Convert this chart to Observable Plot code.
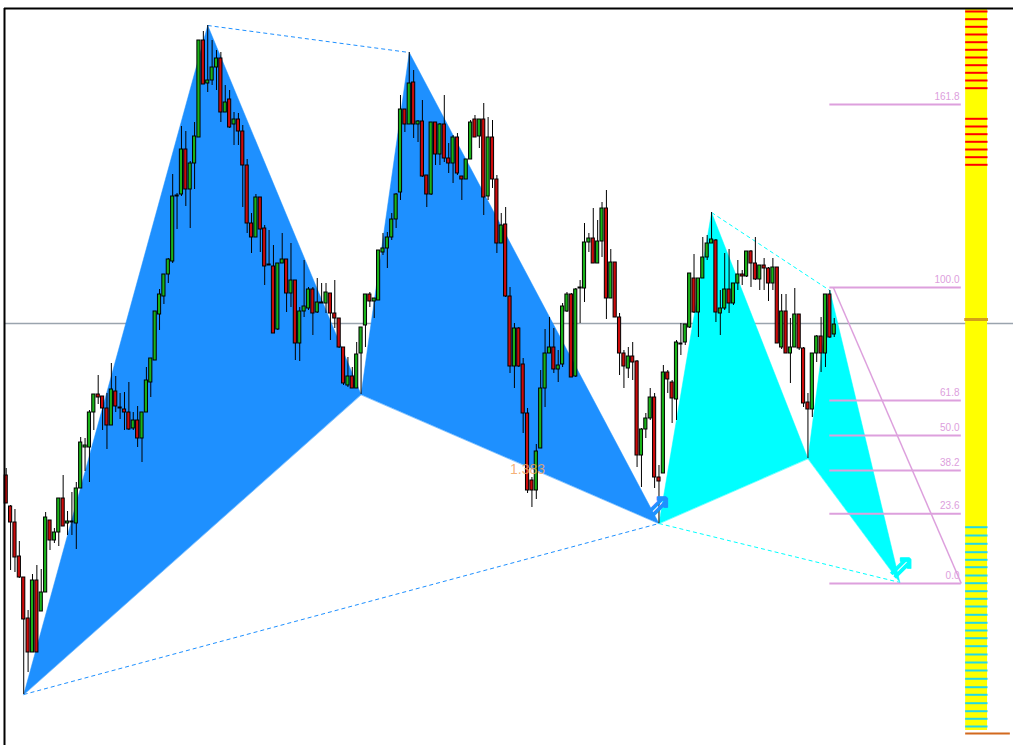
<!DOCTYPE html>
<html><head><meta charset="utf-8">
<script src="https://cdn.jsdelivr.net/npm/d3@7"></script>
<script src="https://cdn.jsdelivr.net/npm/@observablehq/plot@0.6"></script>
<style>body{margin:0;background:#fff;} #chart svg{display:block;background:#fff}</style>
</head><body><div id="chart"></div>
<script>
// ---- data (prices in points) ----
const open = [525,494,478,444,423,382,348,420,389,408,480,460,468,502,477,478,477,512,553,553,588,606,604,592,575,609,593,591,588,572,580,562,588,618,640,686,704,726,739,804,806,851,811,837,863,960,917,920,933,942,888,901,876,881,869,835,777,763,803,772,736,734,671,737,741,707,720,657,689,692,711,688,698,697,707,687,682,653,615,624,612,647,675,706,699,700,748,752,763,781,808,891,876,918,876,879,825,806,878,846,876,842,837,863,824,821,841,881,864,881,804,863,821,757,776,704,634,672,636,587,520,510,552,612,647,653,631,636,689,706,624,712,712,758,762,737,759,792,702,738,683,647,632,644,639,545,571,582,603,523,527,628,618,601,657,658,673,722,688,722,743,757,760,687,692,711,697,717,726,724,749,737,721,735,732,717,733,653,689,647,653,686,652,598,591,647,664,647,706,666];
const high = [532,495,491,459,423,390,426,435,431,488,480,472,502,525,489,508,518,563,562,590,606,625,604,607,637,624,607,608,618,588,594,588,633,642,689,711,726,742,826,807,874,869,839,878,960,969,975,960,950,948,915,910,888,887,875,841,787,806,803,775,770,755,737,767,741,757,720,693,740,713,713,722,717,717,707,720,682,653,643,633,658,673,706,708,702,750,767,768,787,807,905,891,948,930,880,900,825,878,878,877,905,857,865,867,824,841,880,885,881,897,883,880,825,787,793,713,677,673,642,592,523,556,630,671,683,672,650,697,708,707,712,720,777,767,792,780,798,810,751,738,687,650,653,658,640,572,587,612,607,535,635,630,620,660,677,676,727,746,722,763,765,788,761,710,747,751,717,740,730,749,750,763,735,742,733,742,733,706,706,682,712,686,653,607,647,665,683,706,710,682];
const low = [497,430,428,422,306,328,348,348,389,408,450,457,454,474,465,465,451,512,529,518,570,596,570,551,575,588,581,570,570,570,553,538,588,603,640,670,696,717,737,771,804,794,772,811,863,916,908,915,910,878,888,872,855,855,793,767,747,763,748,715,735,667,670,737,688,693,640,639,683,690,665,687,697,687,660,672,652,615,613,612,612,606,653,693,682,700,745,732,760,772,800,868,876,862,858,823,793,805,835,835,838,827,817,825,800,821,841,863,852,785,800,812,747,757,703,627,612,633,567,507,493,501,552,593,647,627,618,633,688,623,623,677,698,748,737,737,743,681,702,683,625,612,622,620,533,513,562,580,512,477,527,607,577,580,645,655,672,687,663,722,740,757,678,665,690,687,695,710,715,723,713,720,710,710,699,710,657,651,647,617,653,650,593,542,583,638,628,633,662,663];
const close = [497,478,443,423,381,348,420,348,408,483,460,468,502,474,479,479,512,558,555,588,606,603,592,575,611,594,592,588,571,580,562,588,620,642,689,706,726,741,804,805,851,811,837,864,960,916,920,933,942,888,898,873,881,869,835,777,763,803,771,734,735,667,737,741,707,720,657,689,694,711,687,698,697,708,687,682,653,617,624,612,646,673,706,699,702,750,752,763,781,806,891,876,917,876,879,824,806,878,846,876,842,837,863,827,821,841,878,863,881,803,863,821,757,775,704,634,672,634,587,510,510,549,612,647,653,631,635,694,706,623,711,713,758,762,737,759,792,702,738,683,647,634,644,638,545,571,582,603,523,519,628,621,602,658,656,676,727,688,722,743,757,761,688,692,711,697,717,726,724,749,737,721,735,732,717,733,657,689,647,653,686,652,597,591,647,664,647,706,663,676];

// harmonic pattern points X, A, B, C, D (bar index, price)
const bluePatternBars = [4, 46, 81, 92, 149];
const bluePatternPrices = [306, 975, 606, 948, 477];
const cyanPatternBars = [149, 161, 183, 188, 204];
const cyanPatternPrices = [477, 788, 542, 710, 418];

// fibonacci projection
const fibRatios = [0, 23.6, 38.2, 50, 61.8, 100, 161.8];
const fibLabels = ["0.0", "23.6", "38.2", "50.0", "61.8", "100.0", "161.8"];
const fibHighPrice = 713, fibLowPrice = 417;

// side ladder levels
const sellLevels = [989,981.3,973.7,966,958.3,950.7,943,935.3,927.7,920,912.3,881.7,874,866.3,858.7,851,843.3,835.7];
const buyLevels = [473.3,465,456.7,448.3,440.7,433.3,425,417.3,409.3,401.7,394,385.7,377.7,370,362.3,354.3,346,338,330,321.7,313.3,305.7,297.3,289.3,281.7,274];
const bidPrice = 677;
const markerPrice = 681;
const ladderBottom = 267;
const ladderTop = 991;
const ratioText = "1.383", ratioBar = 119, ratioPrice = 531;

// ---- layout ----
const W = 1013, H = 745;
const fibX1 = 188, fibX2 = 218, fibLabelX = 217.6;
const ladX1 = 219, ladX2 = 224, ladEnd = 229.2;

const candles = open.map((o, i) => ({i, o, h: Math.max(high[i], o, close[i]), l: Math.min(low[i], o, close[i]), c: close[i]}));
const pts = (bars, prices) => bars.map((b, k) => ({i: b, p: prices[k]}));
const blue = pts(bluePatternBars, bluePatternPrices);
const cyan = pts(cyanPatternBars, cyanPatternPrices);
const tris = (P, name) => [
  ...[P[0], P[1], P[2]].map(d => ({...d, k: name + "1"})),
  ...[P[2], P[3], P[4]].map(d => ({...d, k: name + "2"}))
];
const dashes = (P) => [{x1: P[1].i, y1: P[1].p, x2: P[3].i, y2: P[3].p}, {x1: P[0].i, y1: P[0].p, x2: P[4].i, y2: P[4].p}];
const fibRows = fibRatios.map((r, k) => ({p: fibLowPrice + r / 100 * (fibHighPrice - fibLowPrice), t: fibLabels[k]}));

const BLUE = "#1e90ff", CYAN = "#00ffff", PLUM = "#dda0dd";

const chart = Plot.plot({
  width: W, height: H,
  marginTop: 8, marginLeft: 4, marginRight: 0, marginBottom: 0,
  x: {domain: [-0.388, 229.92], axis: null},
  y: {domain: [255, 992], axis: null},
  style: {background: "#fff"},
  marks: [
    Plot.ruleY([bidPrice], {stroke: "#9aa4ae", strokeWidth: 1.5}),
    Plot.line(tris(blue, "b"), {x: "i", y: "p", z: "k", fill: BLUE, stroke: BLUE, strokeWidth: 0.5, curve: "linear-closed"}),
    Plot.line(tris(cyan, "c"), {x: "i", y: "p", z: "k", fill: CYAN, stroke: CYAN, strokeWidth: 0.5, curve: "linear-closed"}),
    Plot.link(dashes(blue), {x1: "x1", y1: "y1", x2: "x2", y2: "y2", stroke: BLUE, strokeWidth: 1, strokeDasharray: "4,3"}),
    Plot.link(dashes(cyan), {x1: "x1", y1: "y1", x2: "x2", y2: "y2", stroke: CYAN, strokeWidth: 1, strokeDasharray: "4,3"}),
    // ladder
    Plot.rect([0], {x1: () => ladX1, x2: () => ladX2, y1: () => ladderBottom + 3, y2: () => ladderTop, fill: "#ffff00"}),
    Plot.ruleY(sellLevels, {x1: () => ladX1, x2: () => ladX2 + 0.1, stroke: "#ff0000", strokeWidth: 2}),
    Plot.ruleY(buyLevels, {x1: () => ladX1, x2: () => ladX2 + 0.1, stroke: "#22d8e8", strokeWidth: 2}),
    Plot.ruleY([markerPrice], {x1: () => ladX1 - 0.2, x2: () => ladX2 + 0.2, stroke: "#d4a017", strokeWidth: 3}),
    Plot.ruleY([ladderBottom], {x1: () => ladX1, x2: () => ladEnd, stroke: "#d2691e", strokeWidth: 2}),
    // fib projection
    Plot.ruleY(fibRows, {y: "p", x1: () => fibX1, x2: () => fibX2, stroke: PLUM, strokeWidth: 2}),
    Plot.link([0], {x1: () => fibX1 + 0.8, y1: () => fibHighPrice, x2: () => fibX2, y2: () => fibLowPrice, stroke: PLUM, strokeWidth: 1.5}),
    Plot.text(fibRows, {x: () => fibLabelX, y: "p", text: "t", textAnchor: "end", dy: -8, fill: PLUM, fontSize: 10, fontFamily: "Liberation Sans"}),
    // candles
    Plot.ruleX(candles, {x: "i", y1: "l", y2: "h", stroke: "#000", strokeWidth: 1}),
    Plot.rect(candles, {x1: d => d.i - 0.36, x2: d => d.i + 0.36, y1: "o", y2: "c", fill: d => d.c >= d.o ? "#19b319" : "#cc0a0a", stroke: "#000", strokeWidth: 1}),
    // arrows and ratio label
    Plot.text([blue[4]], {x: "i", y: "p", text: () => "⇗", fill: BLUE, stroke: BLUE, strokeWidth: 1.3, fontSize: 32, fontWeight: "bold", dx: -1, dy: -18, fontFamily: "DejaVu Sans"}),
    Plot.text([cyan[4]], {x: "i", y: "p", text: () => "⇗", fill: CYAN, stroke: CYAN, strokeWidth: 1.3, fontSize: 32, fontWeight: "bold", dx: 1, dy: -16, fontFamily: "DejaVu Sans"}),
    Plot.text([0], {x: () => ratioBar, y: () => ratioPrice, text: () => ratioText, fill: "#f4a460", fillOpacity: 0.85, fontSize: 14, fontFamily: "Liberation Sans"}),
    // border (top and left)
    Plot.ruleY([992], {stroke: "#000", strokeWidth: 2}),
    Plot.ruleX([-0.388], {stroke: "#000", strokeWidth: 2})
  ]
});
document.getElementById("chart").appendChild(chart);
</script>
</body></html>
